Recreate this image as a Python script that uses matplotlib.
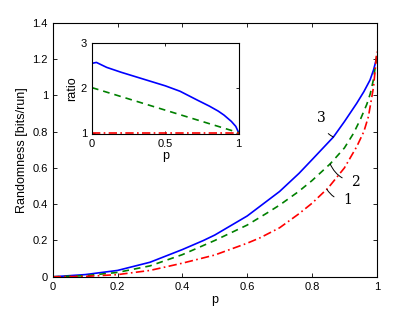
import numpy as np
import matplotlib.pyplot as plt

plt.rcParams['font.family'] = ['Liberation Sans', 'DejaVu Sans']

# main curves
p_3 = [0, 0.1, 0.2, 0.3, 0.4, 0.465, 0.5, 0.6, 0.7, 0.76, 0.8, 0.866, 0.9, 0.938, 0.96, 0.979, 0.99, 0.995, 1.0]
rand_3 = [0, 0.012, 0.035, 0.08, 0.15, 0.2, 0.23, 0.335, 0.47, 0.57, 0.645, 0.77, 0.855, 0.956, 1.02, 1.084, 1.14, 1.175, 1.21]
p_2 = [0, 0.1, 0.2, 0.3, 0.4, 0.5, 0.6, 0.66, 0.7, 0.758, 0.8, 0.856, 0.9, 0.928, 0.95, 0.969, 0.98, 0.99, 1.0]
rand_2 = [0, 0.006, 0.024, 0.06, 0.122, 0.2, 0.285, 0.35, 0.395, 0.469, 0.53, 0.622, 0.71, 0.79, 0.87, 0.95, 1.01, 1.09, 1.22]
p_1 = [0, 0.1, 0.2, 0.3, 0.4, 0.5, 0.6, 0.64, 0.7, 0.758, 0.8, 0.85, 0.9, 0.938, 0.96, 0.974, 0.99, 1.0]
rand_1 = [0, 0.002, 0.012, 0.035, 0.075, 0.12, 0.185, 0.215, 0.27, 0.345, 0.405, 0.49, 0.60, 0.717, 0.80, 0.882, 1.047, 1.24]

# inset ratios
p_r3 = [0, 0.03, 0.1, 0.2, 0.3, 0.4, 0.5, 0.6, 0.72, 0.8, 0.86, 0.9, 0.95, 0.98, 1.0]
ratio_3 = [2.54, 2.56, 2.45, 2.34, 2.24, 2.14, 2.04, 1.92, 1.72, 1.59, 1.48, 1.39, 1.25, 1.14, 1.0]
p_r2 = [0, 1]
ratio_2 = [2.0, 1.0]
p_r1 = [0, 1]
ratio_1 = [1.0, 1.0]

blue, green, red = '#0000ff', '#008000', '#ff0000'
dash = (0, (4, 3))
dashdot = (0, (5, 2, 1, 2))

fig = plt.figure(figsize=(4.15, 3.11), dpi=100)
ax = fig.add_axes([0.127, 0.11, 0.781, 0.817])
ax.plot(p_3, rand_3, color=blue, lw=1.2)
ax.plot(p_2, rand_2, color=green, lw=1.2, ls=dash)
ax.plot(p_1, rand_1, color=red, lw=1.2, ls=dashdot)
ax.set_xlim(0, 1)
ax.set_ylim(0, 1.4)
ax.set_xticks([0, 0.2, 0.4, 0.6, 0.8, 1])
ax.set_xticklabels(['0', '0.2', '0.4', '0.6', '0.8', '1'])
ax.set_yticks([0, 0.2, 0.4, 0.6, 0.8, 1, 1.2, 1.4])
ax.set_yticklabels(['0', '0.2', '0.4', '0.6', '0.8', '1', '1.2', '1.4'])
ax.tick_params(direction='in', top=True, right=True, labelsize=8, length=3, width=0.6)
for s in ax.spines.values():
    s.set_linewidth(0.8)
ax.set_xlabel('p', fontsize=9, labelpad=2)
ax.set_ylabel('Randomness [bits/run]', fontsize=9, labelpad=3)

# curve labels with leader lines
serif = dict(family='DejaVu Serif', fontsize=10)
ax.annotate('3', xy=(0.866, 0.77), xytext=(0.83, 0.873), ha='center', va='center',
            arrowprops=dict(arrowstyle='-', lw=0.7, shrinkA=5, shrinkB=0,
                            connectionstyle='arc3,rad=0.3'), **serif)
ax.annotate('2', xy=(0.856, 0.622), xytext=(0.935, 0.524), ha='center', va='center',
            arrowprops=dict(arrowstyle='-', lw=0.7, shrinkA=5, shrinkB=0,
                            connectionstyle='arc3,rad=-0.3'), **serif)
ax.annotate('1', xy=(0.846, 0.482), xytext=(0.91, 0.423), ha='center', va='center',
            arrowprops=dict(arrowstyle='-', lw=0.7, shrinkA=5, shrinkB=0,
                            connectionstyle='arc3,rad=-0.3'), **serif)

# inset
ins = fig.add_axes([0.2217, 0.569, 0.3535, 0.294])
ins.plot(p_r3, ratio_3, color=blue, lw=1.2)
ins.plot(p_r2, ratio_2, color=green, lw=1.2, ls=dash)
ins.plot(p_r1, ratio_1, color=red, lw=1.2, ls=dashdot)
ins.set_xlim(0, 1)
ins.set_ylim(0.97, 3)
ins.set_xticks([0, 0.5, 1])
ins.set_xticklabels(['0', '0.5', '1'])
ins.set_yticks([1, 2, 3])
ins.tick_params(direction='in', top=True, right=True, labelsize=8, length=2.5, width=0.6)
for s in ins.spines.values():
    s.set_linewidth(0.8)
ins.set_xlabel('p', fontsize=9, labelpad=1)
ins.set_ylabel('ratio', fontsize=9, labelpad=2)

fig.savefig('out.png', dpi=100)
